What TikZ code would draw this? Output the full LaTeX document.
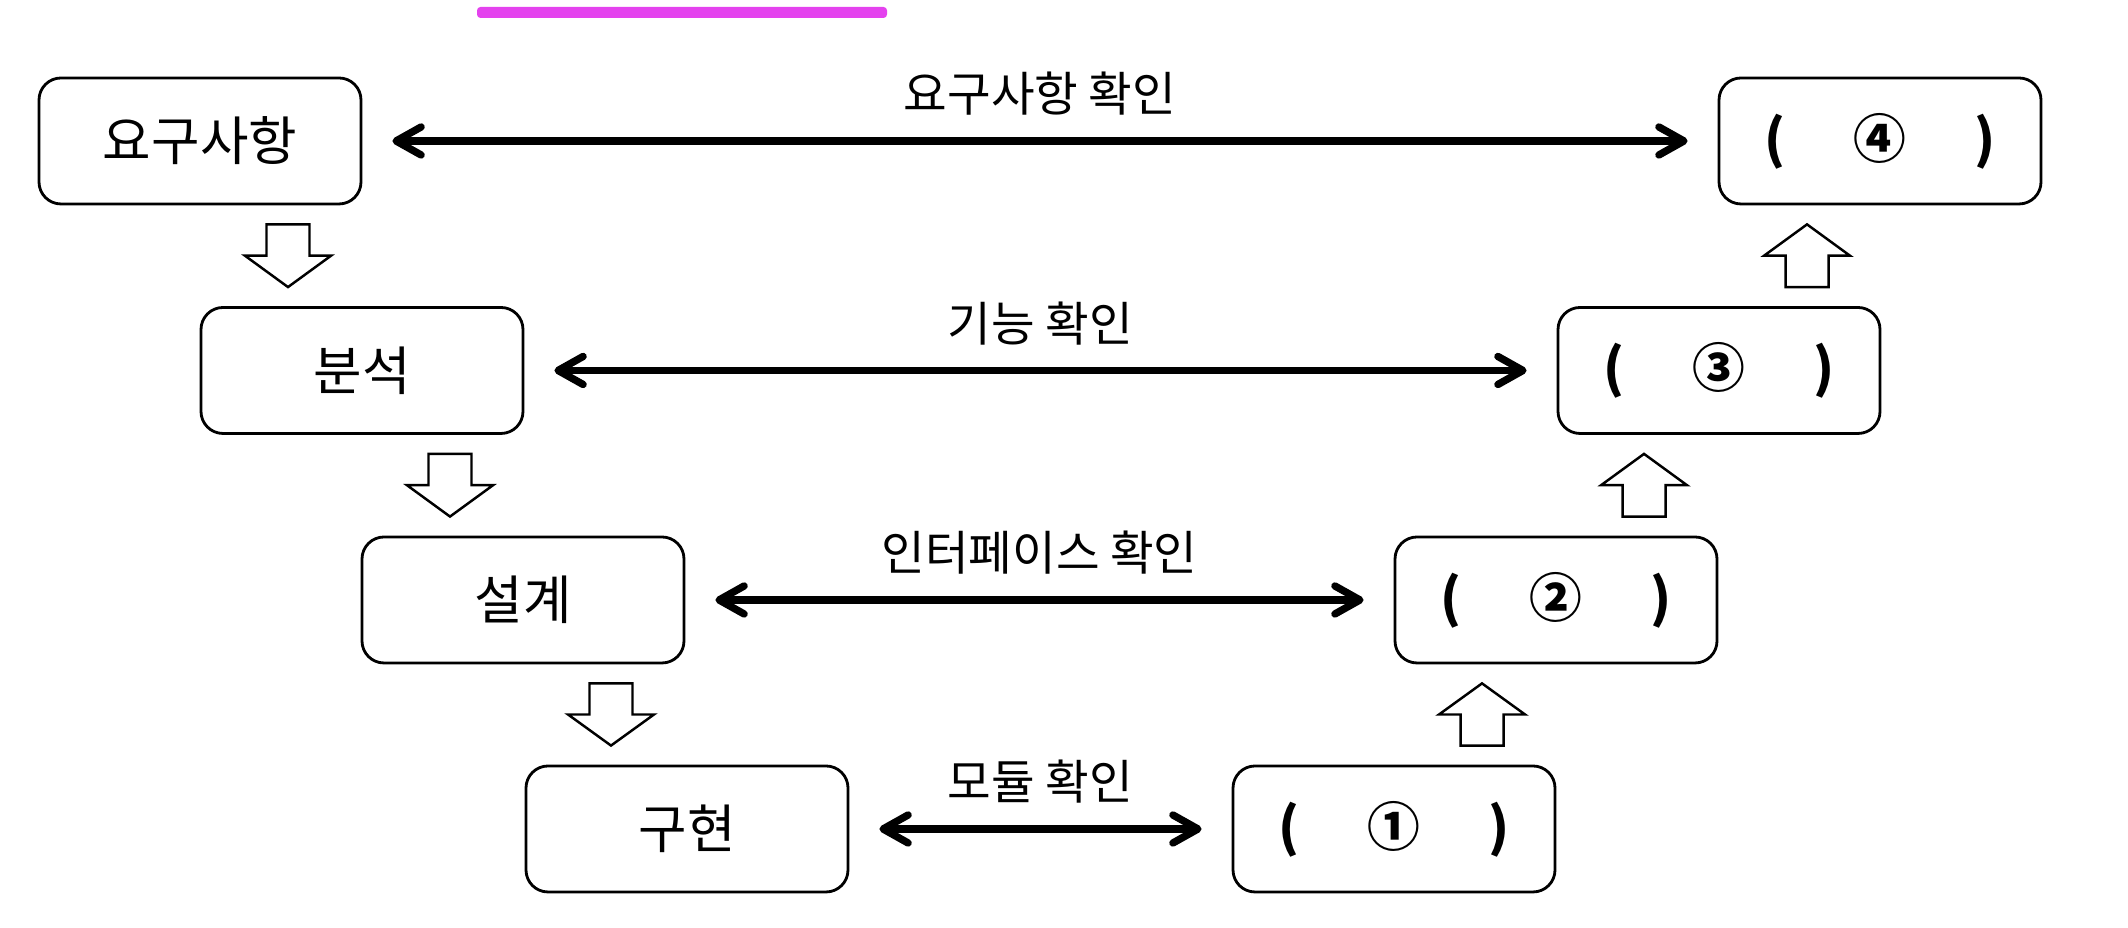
\documentclass[tikz,border=0pt]{standalone}
\usepackage{fontspec}
\setmainfont{Noto Sans CJK KR}
\usepackage{tikz}
\usetikzlibrary{arrows.meta, calc}
\definecolor{marker}{RGB}{228,66,238}

% blank answer box: ( n )
\newcommand{\blank}[1]{\makebox[2.32cm]{\bfseries(\hfill#1\hfill)}}
% hollow block arrow between two stacked boxes
\newcommand{\hollowarrow}[3]{%
  \draw[hollow] let \p1=(#1), \p2=(#2),
      \n1={sign(\y2-\y1)*0.19cm}, \n2={\x1+#3},
      \n3={\y1+\n1}, \n4={\y2-\n1}, \n5={(\n3+\n4)/2}
    in (\n2-0.215cm,\n3) -- (\n2-0.215cm,\n5) -- (\n2-0.43cm,\n5) -- (\n2,\n4)
       -- (\n2+0.43cm,\n5) -- (\n2+0.215cm,\n5) -- (\n2+0.215cm,\n3) -- cycle;}

\begin{document}
\begin{tikzpicture}[>={Straight Barb[length=2.5mm, width=2.8mm, round]},
    stage/.style={draw, rounded corners=0.22cm, line width=0.8pt, minimum width=3.22cm, minimum height=1.26cm, font=\fontsize{15}{18}\selectfont},
    check/.style={<->, line width=2.1pt, shorten <=0.3cm, shorten >=0.3cm},
    note/.style={font=\fontsize{13.5}{16}\selectfont},
    hollow/.style={draw, fill=white, line width=0.7pt, line join=miter}]
        \useasboundingbox (0, 0) rectangle (21.28, 9.28);
        \fill[white] (0, 0) rectangle (21.28, 9.28);
        \fill[marker, rounded corners=1pt] (4.77, 9.10) rectangle (8.87, 9.21);

        % Nodes
        \node[stage] (req) at (2.00, 7.87) {요구사항};
        \node[stage] (ana) at (3.62, 5.575) {분석};
        \node[stage] (des) at (5.23, 3.28) {설계};
        \node[stage] (imp) at (6.87, 0.99) {구현};
        \node[stage] (t1) at (13.94, 0.99) {\blank{①}};
        \node[stage] (t2) at (15.56, 3.28) {\blank{②}};
        \node[stage] (t3) at (17.19, 5.575) {\blank{③}};
        \node[stage] (t4) at (18.80, 7.87) {\blank{④}};

        % Checks
        \draw[check] (req) -- (t4) node[midway, above=1mm, note] {요구사항 확인};
        \draw[check] (ana) -- (t3) node[midway, above=1mm, note] {기능 확인};
        \draw[check] (des) -- (t2) node[midway, above=1mm, note] {인터페이스 확인};
        \draw[check] (imp) -- (t1) node[midway, above=1mm, note] {모듈 확인};

        % Flow
        \hollowarrow{req.south}{ana.north}{0.88cm}
        \hollowarrow{ana.south}{des.north}{0.88cm}
        \hollowarrow{des.south}{imp.north}{0.88cm}
        \hollowarrow{t1.north}{t2.south}{0.88cm}
        \hollowarrow{t2.north}{t3.south}{0.88cm}
        \hollowarrow{t3.north}{t4.south}{0.88cm}
    \end{tikzpicture}
\end{document}
